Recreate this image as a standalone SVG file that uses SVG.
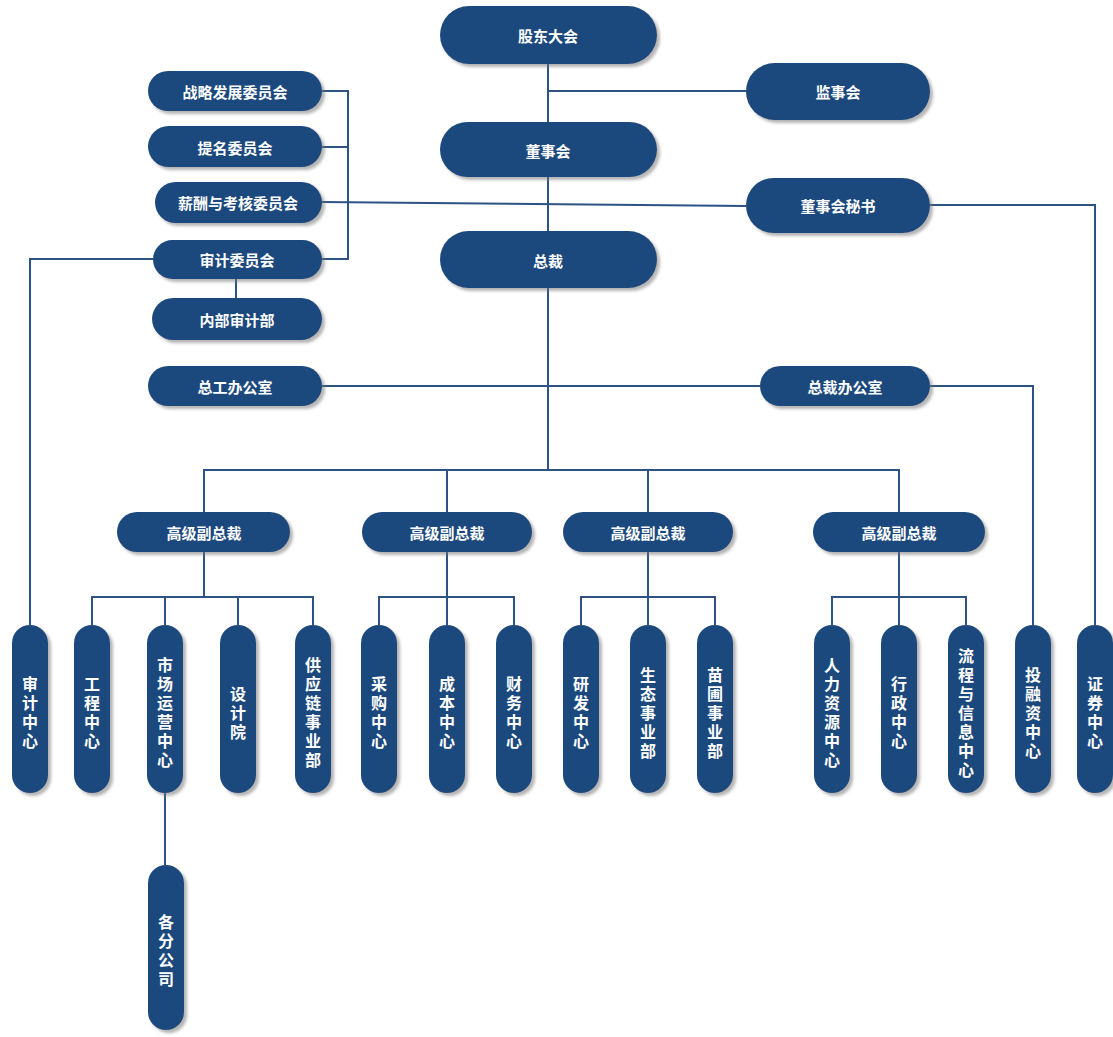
<svg xmlns="http://www.w3.org/2000/svg" width="1113" height="1037" viewBox="0 0 1113 1037">
<style>
.n{fill:#1f4a7d;filter:url(#sh)}
.t{fill:#ffffff;font-family:"Noto Sans CJK SC","Liberation Serif",serif;font-weight:bold;font-size:15px;text-anchor:middle;dominant-baseline:central}
.tv{fill:#ffffff;font-family:"Noto Sans CJK SC","Liberation Serif",serif;font-weight:bold;font-size:16px;text-anchor:middle;writing-mode:vertical-rl;letter-spacing:3px}
.c{fill:none;stroke:#2d5284;stroke-width:2}
</style>
<defs>
<filter id="sh" x="-20%" y="-20%" width="140%" height="140%">
<feDropShadow dx="3" dy="3" stdDeviation="1.5" flood-color="#777" flood-opacity="0.55"/>
</filter>
</defs>
<rect width="1113" height="1037" fill="#ffffff"/>
<g id="connectors">
<path class="c" d="M548 64V470"/>
<path class="c" d="M548 91H746"/>
<path class="c" d="M322 91H348V259H322M322 147H348"/>
<path class="c" d="M322 202L746 206"/>
<path class="c" d="M930 205H1095V625"/>
<path class="c" d="M153 259H30V625"/>
<path class="c" d="M236 279V298"/>
<path class="c" d="M322 386H760"/>
<path class="c" d="M930 386H1033V625"/>
<path class="c" d="M204 512V470H899V512M447 470V512M648 470V512"/>
<path class="c" d="M204 552V597M92 625V597H313V625M165 597V625M238 597V625"/>
<path class="c" d="M447 552V597M379 625V597H514V625M447 597V625"/>
<path class="c" d="M648 552V597M581 625V597H715V625M648 597V625"/>
<path class="c" d="M899 552V597M832 625V597H966V625M899 597V625"/>
<path class="c" d="M165 793V865"/>
</g>
<g id="n-gddh"><rect class="n" x="440" y="6" width="217" height="58" rx="29"/><text class="t" x="548" y="35">股东大会</text></g>
<g id="n-jsh"><rect class="n" x="746" y="63" width="184" height="57" rx="28.5"/><text class="t" x="838" y="91">监事会</text></g>
<g id="n-dsh"><rect class="n" x="440" y="122" width="217" height="55" rx="27.5"/><text class="t" x="548" y="150">董事会</text></g>
<g id="n-dshms"><rect class="n" x="746" y="178" width="184" height="55" rx="27.5"/><text class="t" x="838" y="205">董事会秘书</text></g>
<g id="n-zc"><rect class="n" x="440" y="231" width="217" height="57" rx="28.5"/><text class="t" x="548" y="260">总裁</text></g>
<g id="n-zlfz"><rect class="n" x="148" y="71" width="174" height="40" rx="20"/><text class="t" x="235" y="91">战略发展委员会</text></g>
<g id="n-tm"><rect class="n" x="148" y="126" width="174" height="41" rx="20.5"/><text class="t" x="235" y="147">提名委员会</text></g>
<g id="n-xc"><rect class="n" x="155" y="182" width="167" height="41" rx="20.5"/><text class="t" x="238" y="202">薪酬与考核委员会</text></g>
<g id="n-sjwyh"><rect class="n" x="153" y="240" width="169" height="39" rx="19.5"/><text class="t" x="237" y="259">审计委员会</text></g>
<g id="n-nbsj"><rect class="n" x="152" y="298" width="170" height="42" rx="21"/><text class="t" x="237" y="319">内部审计部</text></g>
<g id="n-zgbgs"><rect class="n" x="148" y="366" width="174" height="40" rx="20"/><text class="t" x="235" y="386">总工办公室</text></g>
<g id="n-zcbgs"><rect class="n" x="760" y="366" width="170" height="40" rx="20"/><text class="t" x="845" y="386">总裁办公室</text></g>
<g id="n-vp1"><rect class="n" x="117" y="512" width="173" height="40" rx="20"/><text class="t" x="204" y="532">高级副总裁</text></g>
<g id="n-vp2"><rect class="n" x="362" y="512" width="170" height="40" rx="20"/><text class="t" x="447" y="532">高级副总裁</text></g>
<g id="n-vp3"><rect class="n" x="563" y="512" width="170" height="40" rx="20"/><text class="t" x="648" y="532">高级副总裁</text></g>
<g id="n-vp4"><rect class="n" x="813" y="512" width="172" height="40" rx="20"/><text class="t" x="899" y="532">高级副总裁</text></g>
<g id="n-sjzx"><rect class="n" x="12" y="625" width="36" height="168" rx="18"/><text class="tv" x="30" y="714">审计中心</text></g>
<g id="n-gczx"><rect class="n" x="74" y="625" width="36" height="168" rx="18"/><text class="tv" x="92" y="714">工程中心</text></g>
<g id="n-scyy"><rect class="n" x="147" y="625" width="36" height="168" rx="18"/><text class="tv" x="165" y="714">市场运营中心</text></g>
<g id="n-sjy"><rect class="n" x="220" y="625" width="36" height="168" rx="18"/><text class="tv" x="238" y="714">设计院</text></g>
<g id="n-gyl"><rect class="n" x="295" y="625" width="36" height="168" rx="18"/><text class="tv" x="313" y="714">供应链事业部</text></g>
<g id="n-cgzx"><rect class="n" x="361" y="625" width="36" height="168" rx="18"/><text class="tv" x="379" y="714">采购中心</text></g>
<g id="n-cbzx"><rect class="n" x="429" y="625" width="36" height="168" rx="18"/><text class="tv" x="447" y="714">成本中心</text></g>
<g id="n-cwzx"><rect class="n" x="496" y="625" width="36" height="168" rx="18"/><text class="tv" x="514" y="714">财务中心</text></g>
<g id="n-yfzx"><rect class="n" x="563" y="625" width="36" height="168" rx="18"/><text class="tv" x="581" y="714">研发中心</text></g>
<g id="n-stsyb"><rect class="n" x="630" y="625" width="36" height="168" rx="18"/><text class="tv" x="648" y="714">生态事业部</text></g>
<g id="n-mpsyb"><rect class="n" x="697" y="625" width="36" height="168" rx="18"/><text class="tv" x="715" y="714">苗圃事业部</text></g>
<g id="n-rlzy"><rect class="n" x="814" y="625" width="36" height="168" rx="18"/><text class="tv" x="832" y="714">人力资源中心</text></g>
<g id="n-xzzx"><rect class="n" x="881" y="625" width="36" height="168" rx="18"/><text class="tv" x="899" y="714">行政中心</text></g>
<g id="n-lcxx"><rect class="n" x="948" y="625" width="36" height="168" rx="18"/><text class="tv" x="966" y="714">流程与信息中心</text></g>
<g id="n-trzzx"><rect class="n" x="1015" y="625" width="36" height="168" rx="18"/><text class="tv" x="1033" y="714">投融资中心</text></g>
<g id="n-zqzx"><rect class="n" x="1077" y="625" width="36" height="168" rx="18"/><text class="tv" x="1095" y="714">证券中心</text></g>
<g id="n-gfgs"><rect class="n" x="148" y="865" width="36" height="165" rx="18"/><text class="tv" x="166" y="952">各分公司</text></g>
</svg>
